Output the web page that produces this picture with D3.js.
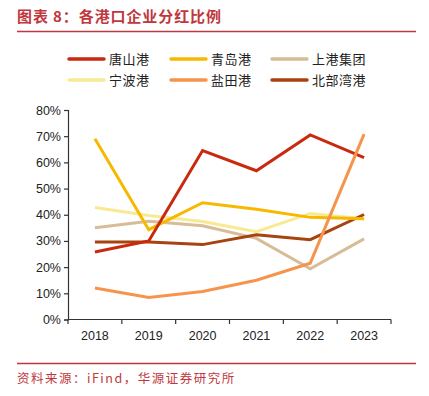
<!DOCTYPE html>
<html><head><meta charset="utf-8">
<script src="https://cdn.jsdelivr.net/npm/d3@7"></script>
<style>body{margin:0;background:#fff}svg{display:block}</style>
</head><body>
<svg id="c" width="429" height="396"></svg>
<script>
const years = ["2018","2019","2020","2021","2022","2023"];
const yTicks = [0,0.1,0.2,0.3,0.4,0.5,0.6,0.7,0.8];
const seriesNames = ["唐山港","青岛港","上港集团","宁波港","盐田港","北部湾港"];
const seriesColors = ["#c8290f","#f7b900","#d7bc98","#f8ea92","#f7944c","#a7430f"];
const tangshan = [0.258,0.300,0.645,0.568,0.705,0.618];
const qingdao = [0.690,0.343,0.446,0.421,0.390,0.385];
const shanggang = [0.350,0.375,0.358,0.310,0.194,0.308];
const ningbo = [0.428,0.397,0.374,0.335,0.405,0.385];
const yantian = [0.120,0.084,0.107,0.150,0.215,0.708];
const beibuwan = [0.296,0.296,0.286,0.324,0.305,0.401];
const seriesValues = [tangshan,qingdao,shanggang,ningbo,yantian,beibuwan];
// draw order (back to front)
const drawOrder = [2,3,5,1,0,4];

const svg = d3.select("#c");
const red = "#c0373d";
const cjk = "'Noto Sans CJK SC', sans-serif";

svg.append("text").attr("x",17).attr("y",22).attr("fill",red)
  .attr("font-family",cjk).attr("font-weight","bold").attr("font-size",15)
  .attr("letter-spacing",0.9)
  .text("图表 8：各港口企业分红比例");
svg.append("line").attr("x1",17).attr("x2",416).attr("y1",31.5).attr("y2",31.5)
  .attr("stroke",red).attr("stroke-width",1.5);

const x = d3.scaleBand().domain(years).range([68,391]);
const y = d3.scaleLinear().domain([0,0.8]).range([319.5,110]);

const gy = svg.append("g").attr("transform","translate(68,0)")
  .call(d3.axisLeft(y).tickValues(yTicks).tickFormat(d3.format(".0%")).tickSize(4).tickPadding(3));
const gx = svg.append("g").attr("transform","translate(0,319.5)")
  .call(d3.axisBottom(x).tickSize(0).tickPadding(12));
[gy,gx].forEach(g=>{
  g.selectAll("path,line").attr("stroke","#333").attr("stroke-width",1.2);
  g.selectAll("text").attr("fill","#222").attr("font-family","'Liberation Sans', Arial, sans-serif").attr("font-size",12.5);
});
gx.select(".domain").attr("d","M68,0H391");
// boundary ticks on x axis
svg.append("g").selectAll("line").data(years.concat(["end"])).join("line")
  .attr("x1",(d,i)=> i<years.length ? x(d) : x.range()[1])
  .attr("x2",(d,i)=> i<years.length ? x(d) : x.range()[1])
  .attr("y1",319.5).attr("y2",324).attr("stroke","#333").attr("stroke-width",1.2);

const line = d3.line().x((d,i)=>x(years[i])+x.bandwidth()/2).y(d=>y(d));
svg.append("g").selectAll("path").data(drawOrder).join("path")
  .attr("d",k=>line(seriesValues[k])).attr("fill","none")
  .attr("stroke",k=>seriesColors[k]).attr("stroke-width",3)
  .attr("stroke-linejoin","miter");

// legend
const legX = [69,171,272], legY = [59,80];
const lg = svg.append("g").selectAll("g").data(seriesNames).join("g")
  .attr("transform",(d,i)=>`translate(${legX[i%3]},${legY[Math.floor(i/3)]})`);
lg.append("line").attr("x1",0).attr("x2",35).attr("stroke",(d,i)=>seriesColors[i])
  .attr("stroke-width",3.5).attr("stroke-linecap","round");
lg.append("text").attr("x",40).attr("y",5).attr("font-family",cjk).attr("font-size",13)
  .attr("letter-spacing",0.5)
  .attr("fill","#222").text(d=>d);

svg.append("line").attr("x1",17).attr("x2",416).attr("y1",363.5).attr("y2",363.5)
  .attr("stroke",red).attr("stroke-width",1.5);
svg.append("text").attr("x",17).attr("y",383).attr("fill",red)
  .attr("font-family",cjk).attr("font-size",12.5).attr("letter-spacing",1.5)
  .text("资料来源：iFind，华源证券研究所");
</script>
</body></html>
